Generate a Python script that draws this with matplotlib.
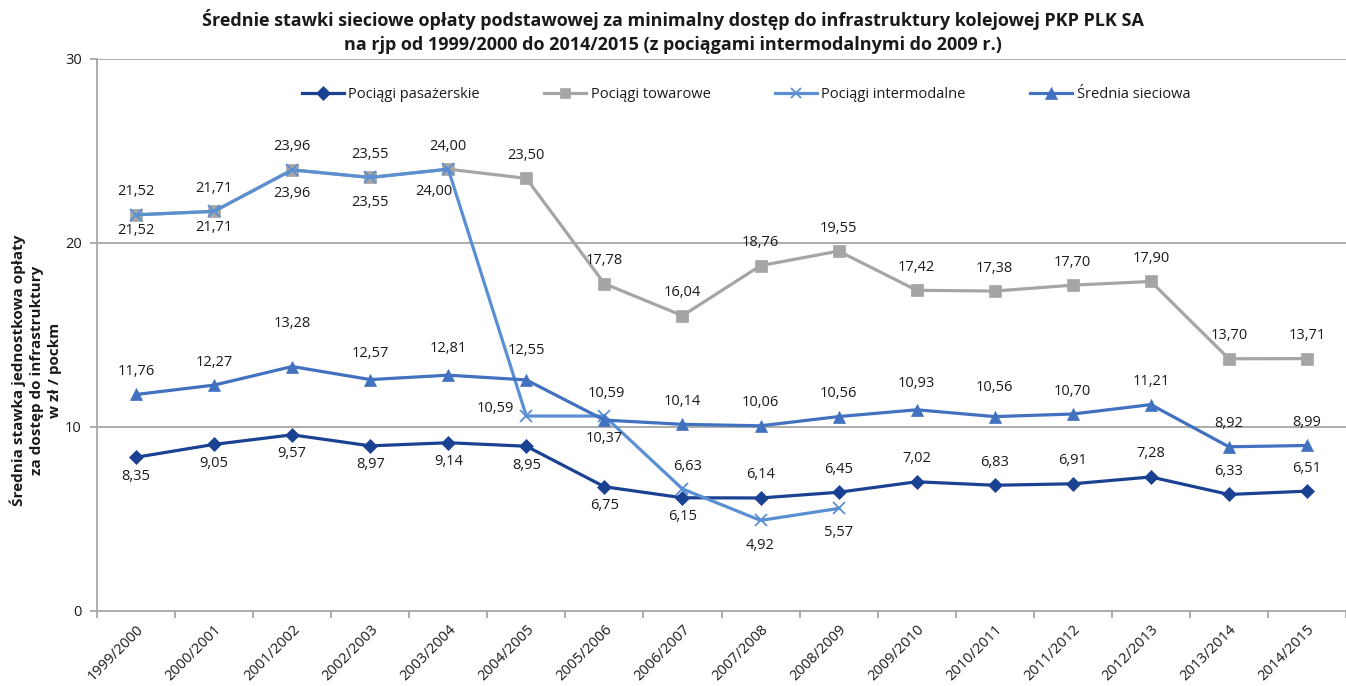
import matplotlib
matplotlib.use("Agg")
import matplotlib.pyplot as plt

# --- data -----------------------------------------------------------------
seasons = ["1999/2000", "2000/2001", "2001/2002", "2002/2003", "2003/2004",
           "2004/2005", "2005/2006", "2006/2007", "2007/2008", "2008/2009",
           "2009/2010", "2010/2011", "2011/2012", "2012/2013", "2013/2014",
           "2014/2015"]
pasazerskie = [8.35, 9.05, 9.57, 8.97, 9.14, 8.95, 6.75, 6.15, 6.14, 6.45,
               7.02, 6.83, 6.91, 7.28, 6.33, 6.51]
towarowe = [21.52, 21.71, 23.96, 23.55, 24.00, 23.50, 17.78, 16.04, 18.76,
            19.55, 17.42, 17.38, 17.70, 17.90, 13.70, 13.71]
intermodalne = [21.52, 21.71, 23.96, 23.55, 24.00, 10.59, 10.59, 6.63, 4.92,
                5.57]
srednia = [11.76, 12.27, 13.28, 12.57, 12.81, 12.55, 10.37, 10.14, 10.06,
           10.56, 10.93, 10.56, 10.70, 11.21, 8.92, 8.99]

series_names = ["Pociągi pasażerskie", "Pociągi towarowe",
                "Pociągi intermodalne", "Średnia sieciowa"]
title_lines = ["Średnie stawki sieciowe opłaty podstawowej za minimalny dostęp "
               "do infrastruktury kolejowej PKP PLK SA",
               "na rjp od 1999/2000 do 2014/2015 (z pociągami intermodalnymi "
               "do 2009 r.)"]
y_label = "Średnia stawka jednostkowa opłaty\nza dostęp do infrastruktury\nw zł / pockm"

# --- style ----------------------------------------------------------------
FONT = "Open Sans"
plt.rcParams["font.family"] = [FONT, "DejaVu Sans"]
C_PAS = "#1b4193"
C_TOW = "#a5a5a5"
C_INT = "#5a8fd2"
C_SRE = "#4271c0"
GRID = "#a6a6a6"
TXT = "#1a1a1a"
LBL_SIZE = 10.5

W, H = 1346, 686
fig = plt.figure(figsize=(W / 100, H / 100), dpi=100)
ax = fig.add_axes([97 / W, 1 - 611 / H, (1346 - 97) / W, (611 - 58.7) / H])

x_all = list(range(len(seasons)))
x_int = list(range(len(intermodalne)))

styles = [
    (pasazerskie, x_all, C_PAS, "D", 7.5, 2.3),
    (towarowe, x_all, C_TOW, "s", 8.0, 2.3),
    (intermodalne, x_int, C_INT, "x", 8.5, 2.3),
    (srednia, x_all, C_SRE, "^", 9.0, 2.3),
]
handles = []
for (vals, xs, col, mk, ms, lw), name in zip(styles, series_names):
    mew = 1.3 if mk == "x" else 0.5
    ln, = ax.plot(xs, vals, color=col, lw=lw, marker=mk, ms=ms,
                  markerfacecolor=col, markeredgecolor=col, mew=mew,
                  label=name, solid_joinstyle="miter", zorder=3)
    handles.append(ln)

ax.set_xlim(-0.5, len(seasons) - 0.5)
ax.set_ylim(0, 30)
ax.set_yticks([0, 10, 20, 30])
ax.set_yticklabels(["0", "10", "20", "30"], fontsize=LBL_SIZE, color=TXT)
for v in (10, 20, 30):
    ax.axhline(v, color=GRID, lw=1.3, zorder=1)

ax.set_xticks(x_all)
ax.set_xticklabels(seasons, rotation=45, ha="right", va="top",
                   rotation_mode="anchor", fontsize=LBL_SIZE, color=TXT)
ax.set_xticks([i - 0.5 for i in range(len(seasons) + 1)], minor=True)
ax.tick_params(axis="x", which="major", length=0, pad=8)
ax.tick_params(axis="x", which="minor", length=5, color=GRID, width=1.3)
ax.tick_params(axis="y", length=5, color=GRID, width=1.3, pad=6)

for s in ("top", "right"):
    ax.spines[s].set_visible(False)
for s in ("left", "bottom"):
    ax.spines[s].set_color(GRID)
    ax.spines[s].set_linewidth(1.3)

# --- data labels (offsets in pixels; positive dy = above the marker) -------
ABOVE, BELOW = 23, -19


def fmt(v):
    return f"{v:.2f}".replace(".", ",")


def put(x, v, dx=0, dy=ABOVE):
    ax.annotate(fmt(v), (x, v), xytext=(dx, dy), textcoords="offset pixels",
                ha="center", va="center", fontsize=LBL_SIZE, color=TXT,
                zorder=5)


for i, v in enumerate(pasazerskie):
    put(i, v, dy=BELOW if i < 8 else ABOVE)

for i, v in enumerate(towarowe):
    put(i, v)

int_offsets = {0: (0, -16), 1: (0, -16), 2: (0, -24), 3: (0, -25),
               4: (-14, -22), 5: (-31, 8), 6: (2, 23), 7: (5, 22),
               8: (0, -25), 9: (0, -24)}
for i, v in enumerate(intermodalne):
    dx, dy = int_offsets[i]
    put(i, v, dx=dx, dy=dy)

sre_offsets = {2: 43, 3: 26, 4: 27, 5: 29, 6: -18, 10: 26, 11: 29}
for i, v in enumerate(srednia):
    put(i, v, dy=sre_offsets.get(i, ABOVE))

# --- legend ---------------------------------------------------------------
leg = fig.legend(handles=handles, loc="center", ncol=4, frameon=False,
                 bbox_to_anchor=(746 / W, 1 - 95 / H), fontsize=LBL_SIZE,
                 handlelength=2.9, handletextpad=0.3, columnspacing=4.4,
                 markerscale=0.9)
for t in leg.get_texts():
    t.set_color(TXT)

# --- titles ---------------------------------------------------------------
fig.text(673 / W, 1 - 20 / H, title_lines[0], ha="center", va="center",
         fontsize=13, fontweight="bold", color=TXT)
fig.text(673 / W, 1 - 45 / H, title_lines[1], ha="center", va="center",
         fontsize=13, fontweight="bold", color=TXT)
fig.text(36 / W, 1 - 370 / H, y_label, ha="center", va="center",
         rotation=90, fontsize=11, fontweight="bold", color=TXT,
         linespacing=1.35)

fig.savefig("out.png", dpi=100, facecolor="white")
